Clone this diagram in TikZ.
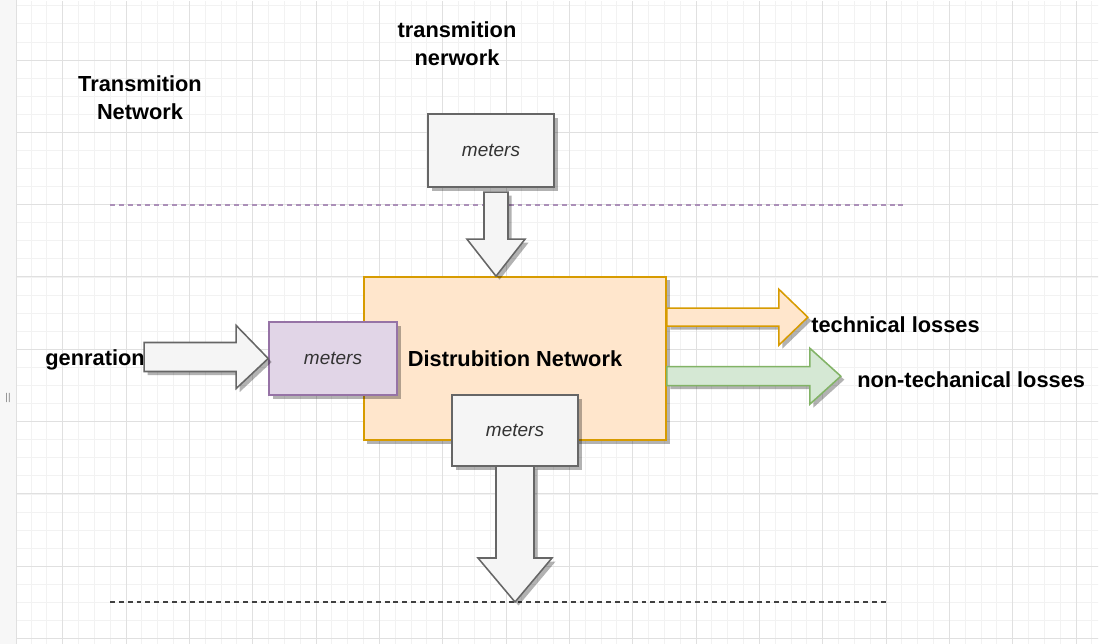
\documentclass[tikz,border=0pt]{standalone}
\usepackage{fontspec}
\setmainfont{Liberation Sans}
\usetikzlibrary{shadows,calc}

\definecolor{grayfill}{HTML}{F5F5F5}
\definecolor{graystroke}{HTML}{666666}
\definecolor{purplefill}{HTML}{E1D5E7}
\definecolor{purplestroke}{HTML}{9673A6}
\definecolor{orangefill}{HTML}{FFE6CC}
\definecolor{orangestroke}{HTML}{D79B00}
\definecolor{greenfill}{HTML}{D5E8D4}
\definecolor{greenstroke}{HTML}{82B366}

\begin{document}
\begin{tikzpicture}[x=0.025cm, y=-0.025cm,
    shadowed/.style={drop shadow={shadow xshift=2.5pt, shadow yshift=-2.5pt, opacity=0.3, fill=black}},
    meter/.style={draw=graystroke, fill=grayfill, line width=1.1pt, minimum width=3.15cm, minimum height=1.825cm,
        text=black!80, font=\fontsize{13.5}{16}\selectfont\itshape, shadowed},
    title/.style={font=\fontsize{15.5}{20}\selectfont\bfseries, align=center, inner sep=0pt},
    bigarrow/.style={draw=graystroke, fill=grayfill, line width=1.1pt, line join=miter, shadowed},
    sepline/.style={line width=1.3pt, dash pattern=on 3.5pt off 2.8pt}]
    \useasboundingbox (0,0) rectangle (1101,644);

    % page and grid
    \fill[white] (0,0) rectangle (1101,644);
    \fill[black!3] (0,0) rectangle (16,644);
    \begin{scope}
        \clip (16,2) rectangle (1098,644);
        \foreach \i in {0,...,70}
            \draw[black!5, line width=0.6pt] ({-0.6+15.833*\i},0) -- ++(0,644);
        \foreach \j in {0,...,36}
            \draw[black!5, line width=0.6pt] (0,{-12.3+18.08*\j}) -- ++(1101,0);
        \foreach \i in {0,...,17}
            \draw[black!12, line width=0.6pt] ({-0.6+63.33*\i},0) -- ++(0,644);
        \foreach \j in {0,...,9}
            \draw[black!12, line width=0.6pt] (0,{-12.3+72.3*\j}) -- ++(1101,0);
    \end{scope}
    \draw[black!12, line width=0.6pt] (16,0) -- (16,644);
    \node[text=black!50, font=\fontsize{7}{8}\selectfont, inner sep=0pt] (mark) at (8,398) {||};

    % separators
    \coordinate (upL) at (110,205);
    \coordinate (upR) at (905,205);
    \coordinate (lowL) at (110,602);
    \coordinate (lowR) at (886,602);
    \draw[sepline, purplestroke!80] (upL) -- (upR);
    \draw[sepline, black!75] (lowL) -- (lowR);

    % labels
    \node[title] (transnet) at (140,98) {Transmition\\Network};
    \node[title] (transnerw) at (457,44) {transmition\\nerwork};
    \node[title, anchor=east] (gen) at (145,360) {genration};
    \node[title, anchor=west] (tech) at (811,325) {technical losses};
    \node[title, anchor=west] (nontech) at (857,380) {non-techanical losses};

    % boxes
    \node[meter] (topmeter) at (491,150.5) {meters};
    \node[draw=orangestroke, fill=orangefill, line width=1.1pt, minimum width=7.55cm, minimum height=4.075cm,
        font=\fontsize{15.5}{20}\selectfont\bfseries, shadowed] (dist) at (515,358.5) {Distrubition Network};
    \node[meter, fill=purplefill, draw=purplestroke, minimum width=3.2cm] (leftmeter) at (333,358.5) {meters};
    \node[meter, minimum height=1.775cm] (botmeter) at (515,430.5) {meters};

    % block arrows
    \draw[bigarrow] (leftmeter.west) -- ++(-32,-33) -- ++(0,17) -- ++(-92,0) -- ++(0,29)
        -- ++(92,0) -- ++(0,17) -- cycle;
    \draw[bigarrow] ($(dist.north)+(-19,0)$) -- ++(29,-37) -- ++(-17,0) -- ++(0,-47) -- ++(-24,0)
        -- ++(0,47) -- ++(-17,0) -- cycle;
    \draw[bigarrow] (botmeter.south |- lowL) -- ++(37,-44) -- ++(-18,0) -- ++(0,-92) -- ++(-38,0)
        -- ++(0,92) -- ++(-18,0) -- cycle;
    \draw[bigarrow, draw=orangestroke, fill=orangefill] ($(dist.north east)+(141,41)$) -- ++(-29,-28)
        -- ++(0,19) -- ++(-112,0) -- ++(0,18) -- ++(112,0) -- ++(0,19) -- cycle;
    \draw[bigarrow, draw=greenstroke, fill=greenfill] ($(dist.north east)+(174,100)$) -- ++(-31,-28)
        -- ++(0,18.5) -- ++(-143,0) -- ++(0,19) -- ++(143,0) -- ++(0,18.5) -- cycle;
\end{tikzpicture}
\end{document}
